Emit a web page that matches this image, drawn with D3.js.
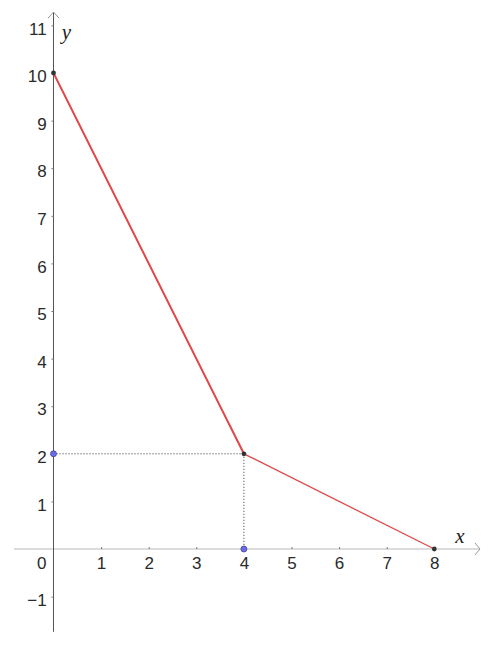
<!DOCTYPE html>
<html>
<head>
<meta charset="utf-8">
<script src="https://cdn.jsdelivr.net/npm/d3@7"></script>
<style>
html,body{margin:0;padding:0;background:#fff;}
svg{display:block;}
</style>
</head>
<body>
<svg id="chart" width="492" height="645"></svg>
<script>
// Data
const linePoints = [[0, 10], [4, 2], [8, 0]];
const segmentWidths = [2, 1.3];
const helperPoints = [[0, 2], [4, 0]];
const guideLines = [[[0, 2], [4, 2]], [[4, 2], [4, 0]]];
const xTicks = [1, 2, 3, 4, 5, 6, 7, 8];
const yTicks = [-1, 1, 2, 3, 4, 5, 6, 7, 8, 9, 10, 11];
const xDomainView = [-0.83, 8.96];
const yDomainView = [-1.74, 11.28];

const FONT = '"Liberation Sans",Arial,sans-serif';
const FS = "17px";
const svg = d3.select("#chart");
const x = d3.scaleLinear().domain([0, 8]).range([53.5, 434.3]);
const y = d3.scaleLinear().domain([0, 10]).range([549, 73]);

// x axis
svg.append("line")
  .attr("x1", x(xDomainView[0])).attr("x2", x(xDomainView[1]))
  .attr("y1", y(0)).attr("y2", y(0))
  .attr("stroke", "#cfcfcf").attr("stroke-width", 1.6);
svg.append("path")
  .attr("d", `M${x(xDomainView[1]) - 5},${y(0) - 6} L${x(xDomainView[1])},${y(0)} L${x(xDomainView[1]) - 5},${y(0) + 6}`)
  .attr("fill", "none").attr("stroke", "#9a9a9a").attr("stroke-width", 1);

// y axis
svg.append("line")
  .attr("x1", x(0)).attr("x2", x(0))
  .attr("y1", y(yDomainView[0])).attr("y2", y(yDomainView[1]))
  .attr("stroke", "#555").attr("stroke-width", 1);
svg.append("path")
  .attr("d", `M${x(0) - 5.5},${y(yDomainView[1]) + 6} L${x(0)},${y(yDomainView[1])} L${x(0) + 5.5},${y(yDomainView[1]) + 6}`)
  .attr("fill", "none").attr("stroke", "#9a9a9a").attr("stroke-width", 1);

const xAxis = d3.axisBottom(x).tickValues(xTicks).tickSize(2).tickPadding(0);
const gx = svg.append("g").attr("transform", `translate(0,${y(0)})`).call(xAxis);
gx.select(".domain").remove();
gx.selectAll(".tick line").attr("stroke", "#777").attr("y1", -2).attr("y2", 0);
gx.selectAll(".tick text")
  .attr("y", 19.5).attr("dy", null)
  .style("font-family", FONT).style("font-size", FS).style("fill", "#2a2a2a");

const yAxis = d3.axisLeft(y).tickValues(yTicks).tickSize(2).tickPadding(5);
const gy = svg.append("g").attr("transform", `translate(${x(0)},0)`).call(yAxis);
gy.select(".domain").remove();
gy.selectAll(".tick line").attr("stroke", "#777");
gy.selectAll(".tick text")
  .attr("x", -6.8).attr("y", 8.7).attr("dy", null)
  .style("font-family", FONT).style("font-size", FS).style("fill", "#2a2a2a");

// origin label
svg.append("text")
  .attr("x", x(0) - 11.8).attr("y", y(0) + 19.5)
  .attr("text-anchor", "middle")
  .style("font-family", FONT)
  .style("font-size", FS).style("fill", "#2a2a2a")
  .text("0");

// axis names
svg.append("text")
  .attr("x", x(xDomainView[1]) - 20).attr("y", y(0) - 6)
  .attr("text-anchor", "middle")
  .style("font-family", '"Liberation Serif","DejaVu Serif",serif')
  .style("font-style", "italic").style("font-size", "21px").style("fill", "#222")
  .text("x");
svg.append("text")
  .attr("x", x(0) + 13).attr("y", y(yDomainView[1]) + 27)
  .attr("text-anchor", "middle")
  .style("font-family", '"Liberation Serif","DejaVu Serif",serif')
  .style("font-style", "italic").style("font-size", "21px").style("fill", "#222")
  .text("y");

// guide dotted lines
guideLines.forEach(g => {
  svg.append("line")
    .attr("x1", x(g[0][0])).attr("y1", y(g[0][1]))
    .attr("x2", x(g[1][0])).attr("y2", y(g[1][1]))
    .attr("stroke", "#333").attr("stroke-width", 1)
    .attr("stroke-dasharray", "1,2");
});

// red segments
for (let i = 0; i < linePoints.length - 1; i++) {
  svg.append("line")
    .attr("x1", x(linePoints[i][0])).attr("y1", y(linePoints[i][1]))
    .attr("x2", x(linePoints[i + 1][0])).attr("y2", y(linePoints[i + 1][1]))
    .attr("stroke", "#e04848").attr("stroke-width", segmentWidths[i]);
}

// points
svg.selectAll("circle.pt").data(linePoints).enter().append("circle")
  .attr("class", "pt")
  .attr("cx", d => x(d[0])).attr("cy", d => y(d[1]))
  .attr("r", 2.4).attr("fill", "#333");

svg.selectAll("circle.hp").data(helperPoints).enter().append("circle")
  .attr("class", "hp")
  .attr("cx", d => x(d[0])).attr("cy", d => y(d[1]))
  .attr("r", 3).attr("fill", "#6b6bf2").attr("stroke", "#3a3a7a").attr("stroke-width", 0.7);
</script>
</body>
</html>
